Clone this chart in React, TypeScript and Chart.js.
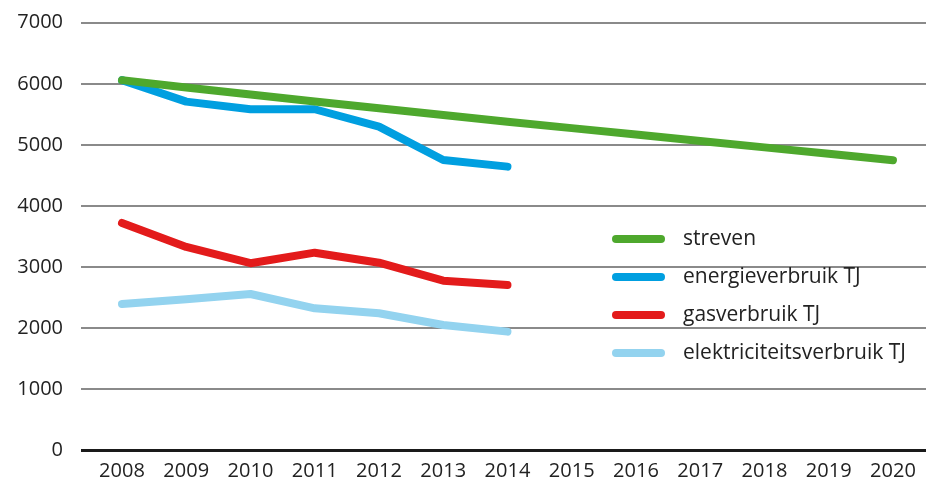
import React, { useEffect, useRef } from "react";
import { Chart, registerables } from "chart.js";

Chart.register(...registerables);

const years = [2008, 2009, 2010, 2011, 2012, 2013, 2014, 2015, 2016, 2017, 2018, 2019, 2020];
const streven = [6060, 5940, 5825, 5710, 5600, 5490, 5380, 5275, 5170, 5065, 4960, 4855, 4750];
const energieverbruik = [6060, 5709, 5584, 5584, 5300, 4754, 4645];
const gasverbruik = [3723, 3330, 3064, 3237, 3073, 2779, 2709];
const elektriciteitsverbruik = [2398, 2475, 2561, 2327, 2245, 2054, 1945];
const yTicks = [0, 1000, 2000, 3000, 4000, 5000, 6000, 7000];

const seriesLabels = ["streven", "energieverbruik TJ", "gasverbruik TJ", "elektriciteitsverbruik TJ"];
const seriesColors = ["#4ea82d", "#009fe0", "#e31b1b", "#93d3ef"];

const FONT = "'Open Sans', sans-serif";

const legendPlugin = {
  id: "insideLegend",
  afterDatasetsDraw(chart: any) {
    const ctx = chart.ctx;
    const rows = [239, 277, 315, 353];
    ctx.save();
    chart.data.datasets.forEach((ds: any, i: number) => {
      const y = rows[i];
      ctx.strokeStyle = ds.borderColor;
      ctx.lineWidth = 8;
      ctx.lineCap = "round";
      ctx.beginPath();
      ctx.moveTo(616, y);
      ctx.lineTo(661, y);
      ctx.stroke();
      ctx.fillStyle = "#222";
      ctx.font = `21px ${FONT}`;
      ctx.textBaseline = "middle";
      ctx.textAlign = "left";
      ctx.fillText(ds.label, 683, y);
    });
    ctx.restore();
  },
};

export default function App() {
  const ref = useRef<HTMLCanvasElement | null>(null);
  useEffect(() => {
    document.body.style.margin = "0";
    const mk = (vals: number[]) => vals.map((v, i) => ({ x: years[i], y: v }));
    const all = [streven, energieverbruik, gasverbruik, elektriciteitsverbruik];
    const chart = new Chart(ref.current as HTMLCanvasElement, {
      type: "line",
      data: {
        datasets: all.map((vals, i) => ({
          label: seriesLabels[i],
          data: mk(vals),
          borderColor: seriesColors[i],
          backgroundColor: seriesColors[i],
          borderWidth: 8,
          borderCapStyle: "round",
          borderJoinStyle: "round",
          pointRadius: 0,
          tension: 0,
          fill: false,
        })),
      },
      options: {
        responsive: false,
        animation: false,
        layout: { padding: { top: 22.7, right: 0, bottom: 0, left: 0 } },
        plugins: { legend: { display: false }, tooltip: { enabled: false } },
        scales: {
          x: {
            type: "linear",
            min: 2007.362,
            max: 2020.514,
            afterBuildTicks: (scale: any) => {
              scale.ticks = years.map((v) => ({ value: v }));
            },
            afterFit: (scale: any) => {
              scale.height = 34.5;
              scale.paddingLeft = 0;
              scale.paddingRight = 0;
            },
            grid: { display: false, drawTicks: false },
            border: { display: false },
            ticks: {
              padding: 9,
              maxRotation: 0,
              autoSkip: false,
              color: "#222",
              font: { family: FONT, size: 20 },
              callback: (v: any) => String(v),
            },
          },
          y: {
            min: 0,
            max: 7000,
            afterBuildTicks: (scale: any) => {
              scale.ticks = yTicks.map((v) => ({ value: v }));
            },
            afterFit: (scale: any) => {
              scale.width = 81;
              scale.paddingTop = 0;
              scale.paddingBottom = 0;
            },
            grid: {
              drawTicks: false,
              color: (c: any) => (c.tick && c.tick.value === 0 ? "#1a1a1a" : "#8a8a8a"),
              lineWidth: (c: any) => (c.tick && c.tick.value === 0 ? 3 : 2),
            },
            border: { display: false },
            ticks: {
              padding: 18,
              color: "#222",
              font: { family: FONT, size: 20 },
              callback: (v: any) => String(v),
            },
          },
        },
      },
      plugins: [legendPlugin],
    } as any);
    return () => chart.destroy();
  }, []);
  return (
    <div style={{ position: "absolute", left: 0, top: 0, width: 926, height: 485 }}>
      <canvas ref={ref} width={926} height={485} style={{ display: "block" }} />
    </div>
  );
}
